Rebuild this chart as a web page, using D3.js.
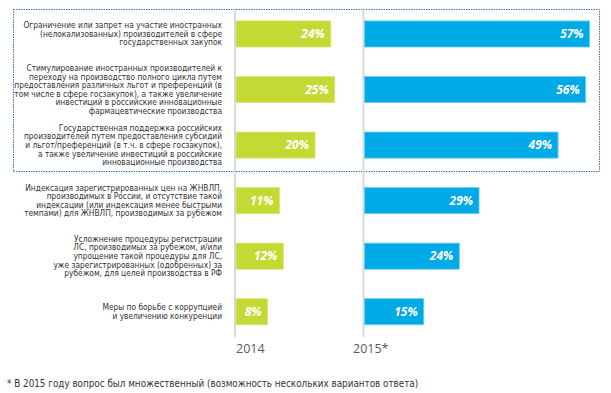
<!DOCTYPE html>
<html>
<head>
<meta charset="utf-8">
<script src="https://cdn.jsdelivr.net/npm/d3@7"></script>
<style>
  body { margin: 0; background: #fff; }
  svg { display: block; }
</style>
</head>
<body>
<div id="main"></div>
<script>
let categories = [
  ["Ограничение или запрет на участие иностранных", "(нелокализованных) производителей в сфере", "государственных закупок"],
  ["Стимулирование иностранных производителей к", "переходу на производство полного цикла путем", "предоставления различных льгот и преференций (в", "том числе в сфере госзакупок), а также увеличение", "инвестиций в российские инновационные", "фармацевтические производства"],
  ["Государственная поддержка российских", "производителей путем предоставления субсидий", "и льгот/преференций (в т.ч. в сфере госзакупок),", "а также увеличение инвестиций в российские", "инновационные производства"],
  ["Индексация зарегистрированных цен на ЖНВЛП,", "производимых в России, и отсутствие такой", "индексации (или индексация менее быстрыми", "темпами) для ЖНВЛП, производимых за рубежом"],
  ["Усложнение процедуры регистрации", "ЛС, производимых за рубежом, и/или", "упрощение такой процедуры для ЛС,", "уже зарегистрированных (одобренных) за", "рубежом, для целей производства в РФ"],
  ["Меры по борьбе с коррупцией", "и увеличению конкуренции"]
]
let values2014 = [24, 25, 20, 11, 12, 8]
let values2015 = [57, 56, 49, 29, 24, 15]
let years = ["2014", "2015*"]
let footnote = "* В 2015 году вопрос был множественный (возможность нескольких вариантов ответа)"

let width = 611
let height = 393

let svg = d3.select("#main")
            .append("svg")
            .attr("width", width)
            .attr("height", height)

let idx = categories.map((d, i) => i)

const yScale = d3.scaleBand().domain(idx).range([6.2, 339.5]).paddingInner(0.53).paddingOuter(0.265)

const xScale = d3.scaleLinear().domain([0, 100]).range([0, 395])

let groups = [
  {x0: 236, values: values2014, color: "#c5d935", edge: "#d8e67a", label: years[0], lx: 236},
  {x0: 364.5, values: values2015, color: "#00aae6", edge: "#6fcdf0", label: years[1], lx: 353}
]

// dotted frame around first three rows
svg.append("rect")
   .attr("x", 13.5)
   .attr("y", 9.5)
   .attr("width", 586)
   .attr("height", 162)
   .attr("fill", "none")
   .attr("stroke", "#3c74ba")
   .attr("stroke-width", 1)
   .attr("stroke-dasharray", "1.5,1")

groups.forEach((g) => {
    svg.append("line")
       .attr("x1", g.x0 - 1).attr("x2", g.x0 - 1)
       .attr("y1", 8).attr("y2", 337)
       .attr("stroke", "#d9d9d9")
       .attr("stroke-width", 2)

    let bars = svg.append("g")

    bars.selectAll("rect")
        .data(g.values)
        .enter()
        .append("rect")
        .attr("x", g.x0)
        .attr("y", (d, i) => yScale(i))
        .attr("width", (d) => xScale(d))
        .attr("height", yScale.bandwidth())
        .style("fill", g.color)
        .style("stroke", g.edge)
        .style("stroke-width", 0.8)

    bars.selectAll("text")
        .data(g.values)
        .enter()
        .append("text")
        .attr("x", (d) => g.x0 + xScale(d) - 6)
        .attr("y", (d, i) => yScale(i) + yScale.bandwidth() / 2)
        .attr("dy", "0.36em")
        .attr("text-anchor", "end")
        .attr("fill", "#fff")
        .style("font-family", "'Open Sans', sans-serif")
        .style("font-style", "italic")
        .style("font-weight", "bold")
        .style("font-size", "12px")
        .text((d) => d + "%")

    svg.append("text")
       .attr("x", g.lx)
       .attr("y", 353)
       .attr("fill", "#595959")
       .style("font-family", "'Open Sans', sans-serif")
       .style("font-size", "12.5px")
       .text(g.label)
})

let lineH = 8.6

svg.append("g")
   .selectAll("text")
   .data(categories)
   .enter()
   .append("text")
   .attr("text-anchor", "end")
   .attr("fill", "#333")
   .style("font-family", "'Liberation Sans Narrow', 'DejaVu Sans Condensed', sans-serif")
   .style("font-size", "8.3px")
   .each(function (d, i) {
       let cy = yScale(i) + yScale.bandwidth() / 2
       let top = cy - (d.length - 1) * lineH / 2
       d3.select(this).selectAll("tspan")
         .data(d)
         .enter()
         .append("tspan")
         .attr("x", 222)
         .attr("y", (t, j) => top + j * lineH)
         .attr("dy", "0.35em")
         .text((t) => t)
   })

svg.append("text")
   .attr("x", 7)
   .attr("y", 387)
   .attr("fill", "#333")
   .style("font-family", "'Liberation Sans Narrow', 'DejaVu Sans Condensed', sans-serif")
   .style("font-size", "9.8px")
   .text(footnote)
</script>
</body>
</html>
